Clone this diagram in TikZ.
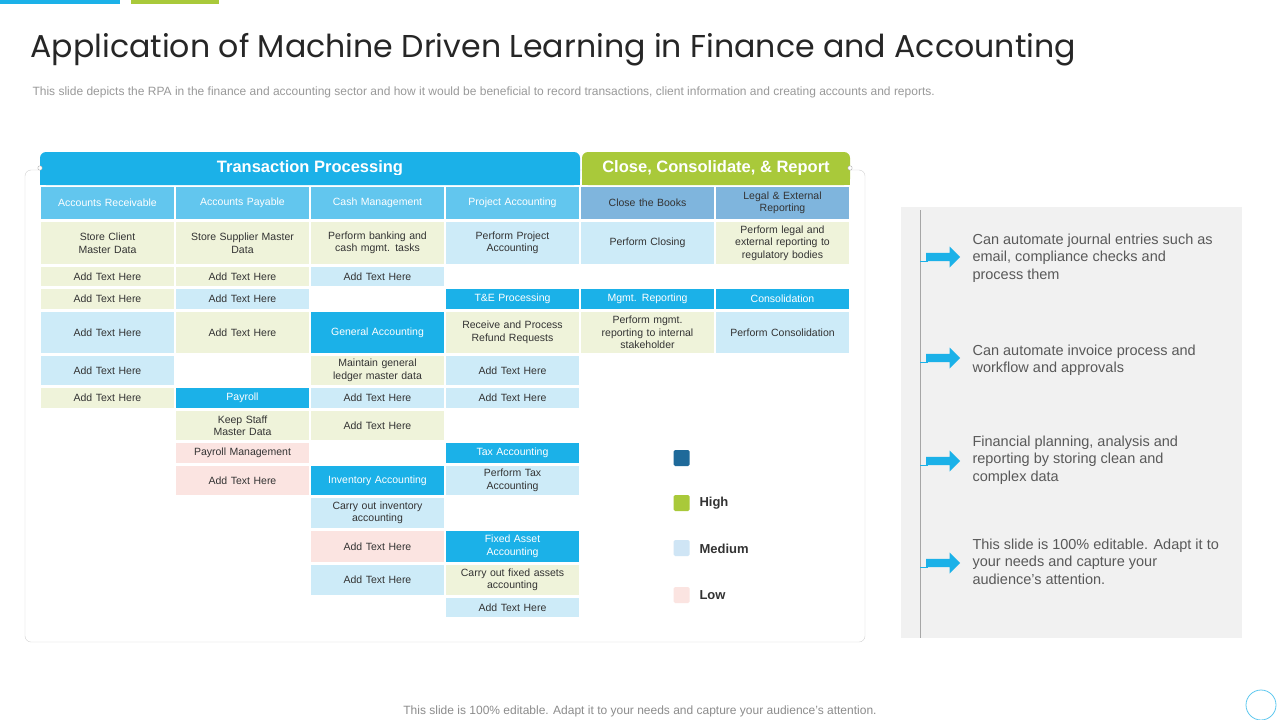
\documentclass[tikz,border=0pt]{standalone}
\usepackage{fontspec}
\setmainfont{Liberation Sans}
\newfontfamily\titlefont{Poppins}
\usetikzlibrary{shapes.arrows}
\definecolor{tblue}{HTML}{1BB1E8}
\definecolor{thdr}{HTML}{62C6EE}
\definecolor{tdark}{HTML}{7FB5DD}
\definecolor{tgreen}{HTML}{A9C93A}
\definecolor{tbeige}{HTML}{EFF3DA}
\definecolor{tlight}{HTML}{CDEBF8}
\definecolor{tpink}{HTML}{FBE4E1}
\definecolor{tlegdark}{HTML}{1F6A9A}
\definecolor{tleglight}{HTML}{CFE5F5}
\definecolor{ttext}{HTML}{333333}
\definecolor{tgray}{HTML}{595959}
\tikzset{
  cellst/.style={inner sep=0pt, align=center, font=\fontsize{10.5}{12.5}\selectfont, text=ttext},
  hdr/.style={fill=thdr, text=white},
  hdrd/.style={fill=tdark, text=ttext},
  bl/.style={fill=tblue, text=white},
  be/.style={fill=tbeige},
  lb/.style={fill=tlight},
  pk/.style={fill=tpink},
  legsq/.style={rounded corners=1.5pt, minimum size=16pt, inner sep=0pt},
  leglab/.style={anchor=west, font=\bfseries\fontsize{13}{15}\selectfont, text=ttext},
  bullet/.style={anchor=north west, align=left, font=\fontsize{14.5}{17.5}\selectfont, text=tgray},
  barrow/.style={single arrow, fill=tblue, minimum height=34pt, minimum width=21pt, single arrow head extend=3.5pt, inner sep=2pt}
}
% name, style, x1, y1, x2, y2, text
\newcommand\cel[7]{\node[cellst,#2,minimum width={#5-#3-1.5}, minimum height={#6-#4-1.5}, text width={#5-#3-12}] (#1) at ({(#3+#5)/2},{(#4+#6)/2}) {#7};}
\begin{document}
\begin{tikzpicture}[x=1pt,y=-1pt]
\useasboundingbox (0,0) rectangle (1280,720);
\fill[white] (0,0) rectangle (1280,720);
% top bars
\fill[tblue] (0,0) rectangle (120,4);
\fill[tgreen] (131,0) rectangle (219,4);
% title
\node[anchor=west, font=\titlefont\fontsize{31.6}{36}\selectfont, text=black!85] (title) at (27,50) {Application of Machine Driven Learning in Finance and Accounting};
\node[anchor=west, font=\fontsize{12}{14}\selectfont, text=black!40] (sub) at (29,92) {This slide depicts the RPA in the finance and accounting sector and how it would be beneficial to record transactions, client information and creating accounts and reports.};
% frame
\draw[black!18, rounded corners=6pt] (25,170) rectangle (865,642);
% banners
\node[fill=tblue, rounded corners=6pt, minimum width=540pt, minimum height=33pt, text=white, font=\bfseries\fontsize{16.5}{19}\selectfont] (tp) at (310,168.5) {Transaction Processing};
\node[fill=tgreen, rounded corners=6pt, minimum width=268pt, minimum height=33pt, text=white, font=\bfseries\fontsize{16.5}{19}\selectfont] (ccr) at (716,168.5) {Close, Consolidate, \& Report};
\fill[tblue] (40,175) rectangle (580,185);
\fill[tgreen] (582,175) rectangle (850,185);
\draw[black!30, fill=white] (40,168) circle (2.2);
\draw[black!30, fill=white] (850,168) circle (2.2);
% column 1
\cel{h1}{hdr}{40}{186}{175}{220}{Accounts Receivable}
\cel{a1}{be}{40}{221}{175}{265}{Store Client\\Master Data}
\cel{a2}{be}{40}{266}{175}{287}{Add Text Here}
\cel{a3}{be}{40}{288}{175}{310}{Add Text Here}
\cel{a4}{lb}{40}{311}{175}{354}{Add Text Here}
\cel{a5}{lb}{40}{355}{175}{386}{Add Text Here}
\cel{a6}{be}{40}{387}{175}{409}{Add Text Here}
% column 2
\cel{h2}{hdr}{175}{186}{310}{220}{Accounts Payable}
\cel{b1}{be}{175}{221}{310}{265}{Store Supplier Master\\Data}
\cel{b2}{be}{175}{266}{310}{287}{Add Text Here}
\cel{b3}{lb}{175}{288}{310}{310}{Add Text Here}
\cel{b4}{be}{175}{311}{310}{354}{Add Text Here}
\cel{b6}{bl}{175}{387}{310}{409}{Payroll}
\cel{b7}{be}{175}{410}{310}{441}{Keep Staff\\Master Data}
\cel{b8}{pk}{175}{442}{310}{464}{Payroll Management}
\cel{b9}{pk}{175}{465}{310}{496}{Add Text Here}
% column 3
\cel{h3}{hdr}{310}{186}{445}{220}{Cash Management}
\cel{c1}{be}{310}{221}{445}{265}{Perform banking and\\cash mgmt. tasks}
\cel{c2}{lb}{310}{266}{445}{287}{Add Text Here}
\cel{c4}{bl}{310}{311}{445}{354}{General Accounting}
\cel{c5}{be}{310}{355}{445}{386}{Maintain general\\ledger master data}
\cel{c6}{lb}{310}{387}{445}{409}{Add Text Here}
\cel{c7}{be}{310}{410}{445}{441}{Add Text Here}
\cel{c9}{bl}{310}{465}{445}{496}{Inventory Accounting}
\cel{c10}{lb}{310}{497}{445}{529}{Carry out inventory\\accounting}
\cel{c11}{pk}{310}{530}{445}{563}{Add Text Here}
\cel{c12}{lb}{310}{564}{445}{596}{Add Text Here}
% column 4
\cel{h4}{hdr}{445}{186}{580}{220}{Project Accounting}
\cel{d1}{lb}{445}{221}{580}{265}{Perform Project\\Accounting}
\cel{d3}{bl}{445}{288}{580}{310}{T\&E Processing}
\cel{d4}{be}{445}{311}{580}{354}{Receive and Process\\Refund Requests}
\cel{d5}{lb}{445}{355}{580}{386}{Add Text Here}
\cel{d6}{lb}{445}{387}{580}{409}{Add Text Here}
\cel{d8}{bl}{445}{442}{580}{464}{Tax Accounting}
\cel{d9}{lb}{445}{465}{580}{496}{Perform Tax\\Accounting}
\cel{d11}{bl}{445}{530}{580}{563}{Fixed Asset\\Accounting}
\cel{d12}{be}{445}{564}{580}{596}{Carry out fixed assets\\accounting}
\cel{d13}{lb}{445}{597}{580}{618}{Add Text Here}
% column 5
\cel{h5}{hdrd}{580}{186}{715}{220}{Close the Books}
\cel{e1}{lb}{580}{221}{715}{265}{Perform Closing}
\cel{e3}{bl}{580}{288}{715}{310}{Mgmt. Reporting}
\cel{e4}{be}{580}{311}{715}{354}{Perform mgmt.\\reporting to internal\\stakeholder}
% column 6
\cel{h6}{hdrd}{715}{186}{850}{220}{Legal \& External\\Reporting}
\cel{f1}{be}{715}{221}{850}{265}{Perform legal and\\external reporting to\\regulatory bodies}
\cel{f3}{bl}{715}{288}{850}{310}{Consolidation}
\cel{f4}{lb}{715}{311}{850}{354}{Perform Consolidation}
% legend
\node[legsq, fill=tlegdark] (l1) at (681.5,458) {};
\node[legsq, fill=tgreen] (l2) at (681.5,503) {};
\node[legsq, fill=tleglight] (l3) at (681.5,548) {};
\node[legsq, fill=tpink] (l4) at (681.5,595) {};
\node[leglab] (t2) at (696,503) {High};
\node[leglab] (t3) at (696,549) {Medium};
\node[leglab] (t4) at (696,595) {Low};
% right panel
\fill[black!5.5] (901,207) rectangle (1242,638);
\draw[black!35] (920,210) -- (920,638);
\foreach \yy/\nm in {257/r1,358/r2,461/r3,563/r4}{
  \draw[tblue] (920,\yy+4) -- (928,\yy+4);
  \node[barrow] (\nm) at (941,\yy) {};
}
\node[bullet] (p1) at (969,230) {Can automate journal entries such as\\email, compliance checks and\\process them};
\node[bullet] (p2) at (969,341) {Can automate invoice process and\\workflow and approvals};
\node[bullet] (p3) at (969,432) {Financial planning, analysis and\\reporting by storing clean and\\complex data};
\node[bullet] (p4) at (969,535) {This slide is 100\% editable. Adapt it to\\your needs and capture your\\audience's attention.};
% footer
\node[font=\fontsize{12}{14}\selectfont, text=black!45] (foot) at (640,711) {This slide is 100\% editable. Adapt it to your needs and capture your audience's attention.};
\draw[tblue!70, line width=0.8pt] (1261,705) circle (15);
\end{tikzpicture}
\end{document}
